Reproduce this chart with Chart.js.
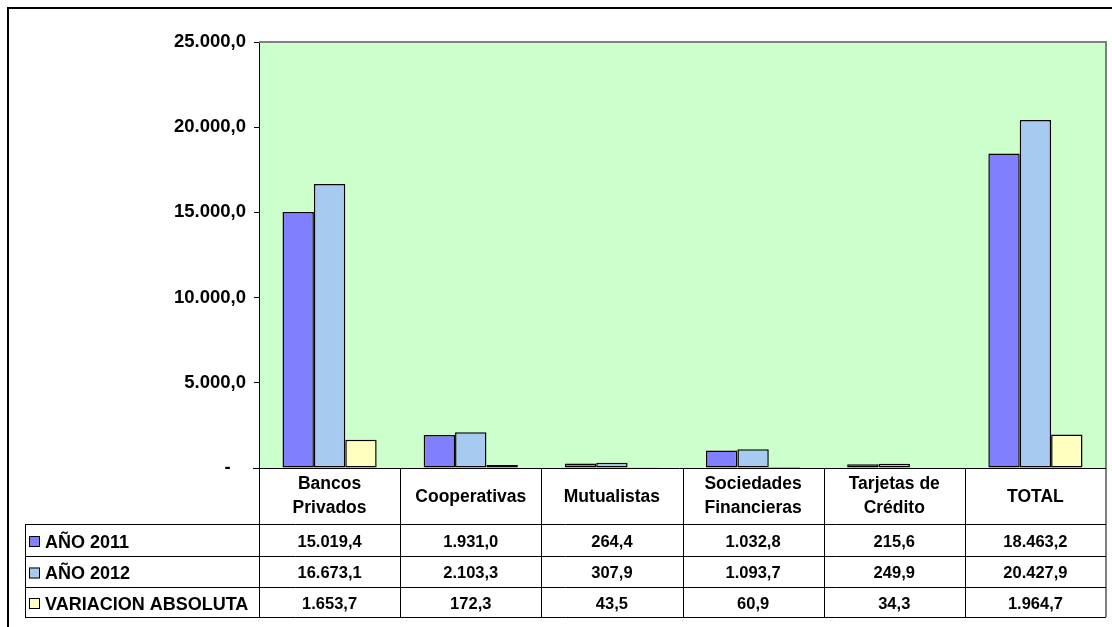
<!DOCTYPE html>
<html>
<head>
<meta charset="utf-8">
<script src="https://cdn.jsdelivr.net/npm/chart.js@4"></script>
<style>
  html, body { margin: 0; padding: 0; background: #fff; }
  .chart-container { position: relative; width: 1112px; height: 627px; }
</style>
</head>
<body>
<div class="chart-container">
  <canvas id="creditChart"></canvas>
</div>
<script>
// Chart data
const categories = [["Bancos", "Privados"], "Cooperativas", "Mutualistas", ["Sociedades", "Financieras"], ["Tarjetas de", "Crédito"], "TOTAL"];
const seriesNames = ["AÑO 2011", "AÑO 2012", "VARIACION ABSOLUTA"];
const values2011 = [15019.4, 1931.0, 264.4, 1032.8, 215.6, 18463.2];
const values2012 = [16673.1, 2103.3, 307.9, 1093.7, 249.9, 20427.9];
const valuesVariacion = [1653.7, 172.3, 43.5, 60.9, 34.3, 1964.7];
const seriesColors = ["#8080FF", "#A6CAF0", "#FFFFC0"];
const yTicks = [0, 5000, 10000, 15000, 20000, 25000];

const FONT = "'Liberation Sans', Arial, sans-serif";

function formatNumber(v) {
  const parts = v.toFixed(1).split(".");
  return parts[0].replace(/\B(?=(\d{3})+(?!\d))/g, ".") + "," + parts[1];
}

// Background, frame and data table below the plot
const tablePlugin = {
  id: "dataTable",
  beforeDraw(chart) {
    const ctx = chart.ctx;
    const a = chart.chartArea;
    ctx.save();
    ctx.fillStyle = "#fff";
    ctx.fillRect(0, 0, chart.width, chart.height);
    ctx.strokeStyle = "#000";
    ctx.lineWidth = 2;
    ctx.beginPath();
    ctx.moveTo(8, chart.height);
    ctx.lineTo(8, 8);
    ctx.lineTo(chart.width, 8);
    ctx.stroke();
    ctx.fillStyle = "#CCFFCC";
    ctx.fillRect(a.left, a.top, a.right - a.left, a.bottom - a.top);
    ctx.restore();
  },
  afterDraw(chart) {
    const ctx = chart.ctx;
    const a = chart.chartArea;
    const xs = chart.scales.x;
    const n = categories.length;
    const colW = (a.right - a.left) / n;
    const rowLines = [a.bottom, 524, 556, 587, 617];
    const rows = [values2011, values2012, valuesVariacion];

    ctx.save();
    // plot border
    ctx.strokeStyle = "#808080";
    ctx.lineWidth = 2;
    ctx.beginPath();
    ctx.moveTo(a.left, a.top);
    ctx.lineTo(a.right, a.top);
    ctx.lineTo(a.right, rowLines[4]);
    ctx.stroke();

    // x axis line with tick on the left
    ctx.strokeStyle = "#000";
    ctx.lineWidth = 1;
    ctx.beginPath();
    ctx.moveTo(a.left - 6, a.bottom + 0.5);
    ctx.lineTo(a.right, a.bottom + 0.5);
    ctx.stroke();

    // table grid
    ctx.beginPath();
    for (let r = 1; r < rowLines.length; r++) {
      ctx.moveTo(25, rowLines[r] + 0.5);
      ctx.lineTo(a.right, rowLines[r] + 0.5);
    }
    ctx.moveTo(25.5, rowLines[1]);
    ctx.lineTo(25.5, rowLines[4]);
    for (let k = 0; k < n; k++) {
      const x = Math.round(a.left + k * colW) + 0.5;
      ctx.moveTo(x, a.bottom);
      ctx.lineTo(x, rowLines[4]);
    }
    ctx.stroke();

    // category headers
    ctx.fillStyle = "#000";
    ctx.textAlign = "center";
    ctx.textBaseline = "middle";
    ctx.font = "bold 17.5px " + FONT;
    categories.forEach((label, i) => {
      const cx = xs.getPixelForValue(i);
      if (Array.isArray(label)) {
        ctx.fillText(label[0], cx, 484);
        ctx.fillText(label[1], cx, 508);
      } else {
        ctx.fillText(label, cx, 497);
      }
    });

    // rows
    rows.forEach((vals, r) => {
      const cy = (rowLines[r + 1] + rowLines[r + 2]) / 2 + 1;
      ctx.fillStyle = seriesColors[r];
      ctx.fillRect(29, cy - 5, 11, 11);
      ctx.strokeStyle = "#000";
      ctx.lineWidth = 1;
      ctx.strokeRect(29.5, cy - 4.5, 10, 10);
      ctx.fillStyle = "#000";
      ctx.textAlign = "left";
      ctx.font = "bold 18px " + FONT;
      ctx.fillText(seriesNames[r], 45, cy + 2);
      ctx.textAlign = "center";
      ctx.font = "bold 16.5px " + FONT;
      vals.forEach((v, i) => {
        ctx.fillText(formatNumber(v), xs.getPixelForValue(i), cy + 1);
      });
    });
    ctx.restore();
  },
};

document.addEventListener("DOMContentLoaded", function () {
  const ctx = document.getElementById("creditChart").getContext("2d");

  const datasets = [values2011, values2012, valuesVariacion].map((data, i) => ({
    label: seriesNames[i],
    data: data,
    backgroundColor: seriesColors[i],
    borderColor: "#000",
    borderWidth: 1.5,
    borderSkipped: false,
    categoryPercentage: 0.667,
    barPercentage: 1.0,
  }));

  new Chart(ctx, {
    type: "bar",
    data: { labels: categories, datasets: datasets },
    options: {
      responsive: true,
      maintainAspectRatio: false,
      animation: false,
      layout: { padding: { left: 0, right: 6, top: 42, bottom: 159 } },
      plugins: {
        legend: { display: false },
        tooltip: { enabled: false },
      },
      scales: {
        x: { display: false },
        y: {
          min: yTicks[0],
          max: yTicks[yTicks.length - 1],
          afterFit: function (scale) {
            scale.width = 259;
          },
          afterBuildTicks: function (scale) {
            scale.ticks = yTicks.map((v) => ({ value: v }));
          },
          border: { color: "#000", width: 1 },
          grid: { drawOnChartArea: false, drawTicks: true, tickLength: 5, color: "#000" },
          ticks: {
            padding: 8,
            color: "#000",
            font: { family: FONT, size: 18.5, weight: "bold" },
            callback: function (value) {
              return value === 0 ? "-   " : formatNumber(value);
            },
          },
        },
      },
    },
    plugins: [tablePlugin],
  });
});
</script>
</body>
</html>
